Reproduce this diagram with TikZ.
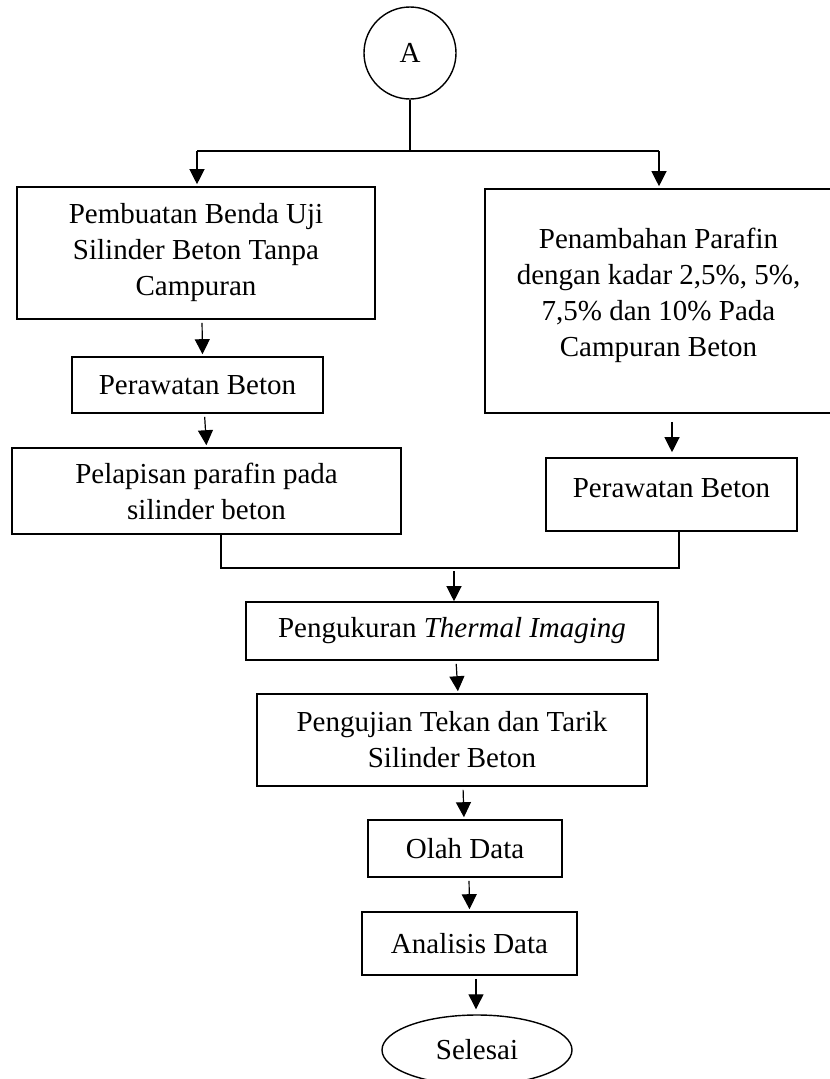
\documentclass[tikz,border=0pt]{standalone}
\usepackage{fontspec}
\setmainfont{Liberation Serif}
\usetikzlibrary{arrows.meta,shapes.geometric}

\begin{document}
\begin{tikzpicture}[x=1pt,y=-1pt]
    \pgfdeclarelayer{nodelayer}
    \pgfdeclarelayer{edgelayer}
    \pgfsetlayers{main,edgelayer,nodelayer}
    \tikzstyle{box}=[draw, line width=1.6pt, shape=rectangle, align=center, inner sep=0pt, font=\fontsize{29}{36}\selectfont]
    \tikzstyle{connector}=[draw, line width=1.4pt, shape=circle, inner sep=0pt, font=\fontsize{29}{36}\selectfont]
    \tikzstyle{terminal}=[draw, line width=1.4pt, shape=ellipse, inner sep=0pt, font=\fontsize{29}{36}\selectfont]
    \tikzstyle{line}=[line width=1.2pt]
    \tikzstyle{arrow}=[-{Triangle[length=15pt, width=15pt]}, line width=1.2pt, shorten <=3pt, shorten >=2pt]
    \useasboundingbox (0, 0) rectangle (830, 1079);
	\begin{pgfonlayer}{nodelayer}
		\node [style=connector, minimum size=92pt] (A) at (410, 53) {A};
		\node [style=box, minimum width=358pt, minimum height=132pt] (pembuatan) at (196, 253) {Pembuatan Benda Uji\\Silinder Beton Tanpa\\Campuran};
		\node [style=box, minimum width=251pt, minimum height=56pt] (rawatL) at (197.5, 385) {Perawatan Beton};
		\node [style=box, minimum width=389pt, minimum height=86pt] (lapis) at (206.5, 491) {Pelapisan parafin pada\\silinder beton};
		\node [style=box, minimum width=347pt, minimum height=224pt] (tambah) at (658.5, 301) {Penambahan Parafin\\dengan kadar 2,5\%, 5\%,\\7,5\% dan 10\% Pada\\Campuran Beton\\[-18pt]};
		\node [style=box, minimum width=251pt, minimum height=73pt] (rawatR) at (671.5, 494.5) {Perawatan Beton\\[-23pt]};
		\node [style=box, minimum width=412pt, minimum height=58pt] (ukur) at (452, 631) {Pengukuran \textit{Thermal Imaging}};
		\node [style=box, minimum width=390pt, minimum height=92pt] (uji) at (452, 740) {Pengujian Tekan dan Tarik\\Silinder Beton};
		\node [style=box, minimum width=194pt, minimum height=57pt] (olah) at (465, 848.5) {Olah Data};
		\node [style=box, minimum width=215pt, minimum height=63pt] (analisis) at (469.5, 943.5) {Analisis Data};
		\node [style=terminal, minimum width=190pt, minimum height=70pt] (selesai) at (477, 1050) {Selesai};
		\coordinate (split) at (410, 151);
		\coordinate (splitL) at (197, 151);
		\coordinate (splitR) at (659, 151);
		\coordinate (joinL) at (221, 568);
		\coordinate (joinR) at (679, 568);
		\coordinate (joinM) at (454, 568);
	\end{pgfonlayer}
	\begin{pgfonlayer}{edgelayer}
		% branch out of A
		\draw [style=line] (A) to (split);
		\draw [style=line] (splitL) to (splitR);
		\draw [style=arrow, shorten <=0pt] (splitL) to (splitL |- pembuatan.north);
		\draw [style=arrow, shorten <=0pt] (splitR) to (splitR |- tambah.north);
		% left branch
		\draw [style=arrow] ([xshift=6pt]pembuatan.south) to ([xshift=5pt]rawatL.north);
		\draw [style=arrow] ([xshift=7pt]rawatL.south) to (lapis.north);
		% right branch
		\draw [style=arrow, shorten <=8pt, shorten >=5pt] ([xshift=13.5pt]tambah.south) to ([xshift=0.5pt]rawatR.north);
		% join
		\draw [style=line] (lapis.south -| joinL) to (joinL) to (joinR) to (rawatR.south -| joinR);
		\draw [style=arrow, shorten >=0pt] (joinM) to (joinM |- ukur.north);
		% main line
		\draw [style=arrow] ([xshift=4pt]ukur.south) to ([xshift=6pt]uji.north);
		\draw [style=arrow] ([xshift=11pt]uji.south) to ([xshift=-1pt]olah.north);
		\draw [style=arrow] ([xshift=4pt]olah.south) to (analisis.north);
		\draw [style=arrow, shorten >=5pt] ([xshift=6.5pt]analisis.south) to ([xshift=-1pt]selesai.north);
	\end{pgfonlayer}
\end{tikzpicture}
\end{document}
